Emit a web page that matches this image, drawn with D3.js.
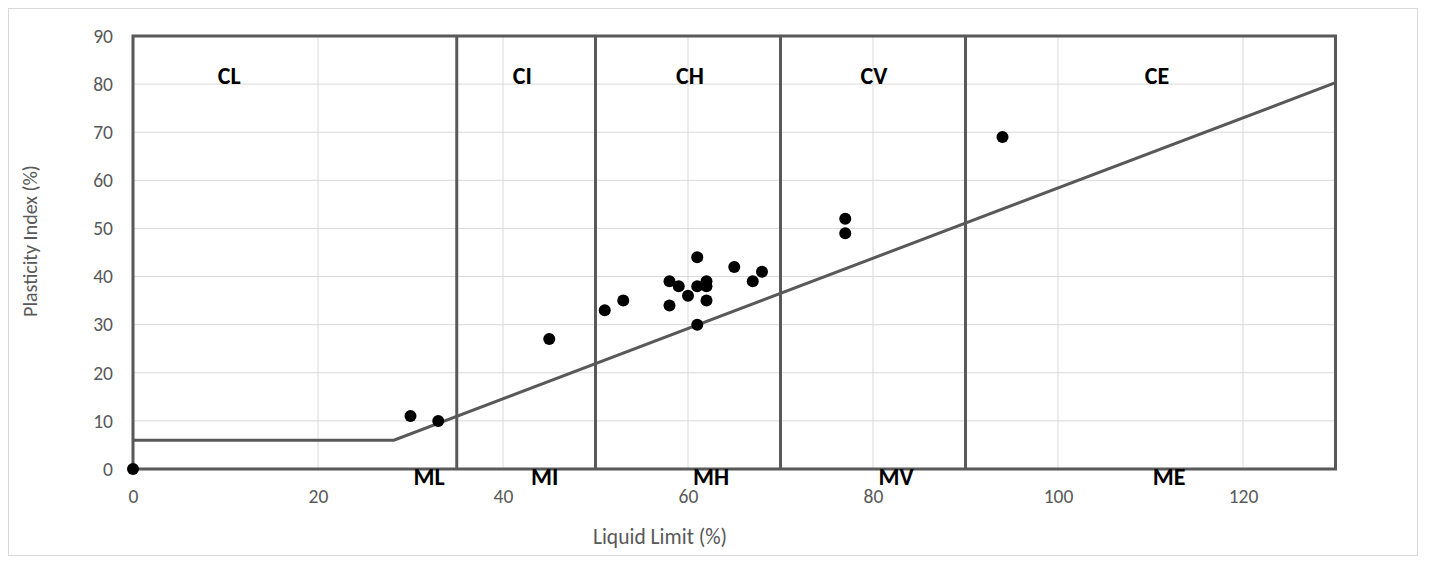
<!DOCTYPE html>
<html><head><meta charset="utf-8">
<script src="https://cdn.jsdelivr.net/npm/d3@7"></script>
<style>body{margin:0;background:#fff}svg{display:block}</style>
</head><body><svg id="c" width="1429" height="564"></svg>
<script>
const xTicks = [0, 20, 40, 60, 80, 100, 120];
const yTicks = [0, 10, 20, 30, 40, 50, 60, 70, 80, 90];
const zoneBounds = [35, 50, 70, 90];
const topLabels = ["CL", "CI", "CH", "CV", "CE"];
const topLabelX = [10.4, 42.1, 60.2, 80.1, 110.7];
const bottomLabels = ["ML", "MI", "MH", "MV", "ME"];
const bottomLabelX = [32, 44.5, 62.5, 82.5, 112];
const aLineLL = [0, 28.2, 130];
const aLinePI = [6, 6, 80.3];
const liquidLimit = [0, 30, 33, 45, 51, 53, 58, 58, 59, 60, 61, 61, 61, 62, 62, 62, 65, 67, 68, 77, 77, 94];
const plasticityIndex = [0, 11, 10, 27, 33, 35, 39, 34, 38, 36, 44, 38, 30, 39, 38, 35, 42, 39, 41, 52, 49, 69];

const svg = d3.select("#c");
const x = d3.scaleLinear().domain([0, 130]).range([133, 1335.5]);
const y = d3.scaleLinear().domain([0, 90]).range([469, 36]);
const font = "Carlito, Calibri, Lato, 'Liberation Sans', sans-serif";

// outer chart border
svg.append("rect").attr("x", 8.5).attr("y", 8.5).attr("width", 1409).attr("height", 547)
  .attr("fill", "#fff").attr("stroke", "#d9d9d9").attr("stroke-width", 1);

// gridlines
svg.append("g").selectAll("line").data(yTicks).join("line")
  .attr("x1", x(0)).attr("x2", x(130)).attr("y1", d => y(d)).attr("y2", d => y(d))
  .attr("stroke", "#d9d9d9").attr("stroke-width", 1);
svg.append("g").selectAll("line").data(xTicks).join("line")
  .attr("y1", y(0)).attr("y2", y(90)).attr("x1", d => x(d)).attr("x2", d => x(d))
  .attr("stroke", "#d9d9d9").attr("stroke-width", 1);

// axes tick labels
const xAxis = d3.axisBottom(x).tickValues(xTicks).tickSize(0).tickPadding(20);
const gx = svg.append("g").attr("transform", `translate(0,${y(0)})`).call(xAxis);
gx.select(".domain").remove();
gx.selectAll("text").attr("fill", "#595959").attr("font-size", 19.5).attr("font-family", font);
const yAxis = d3.axisLeft(y).tickValues(yTicks).tickSize(0).tickPadding(20);
const gy = svg.append("g").attr("transform", `translate(${x(0)},0)`).call(yAxis);
gy.select(".domain").remove();
gy.selectAll("text").attr("fill", "#595959").attr("font-size", 19.5).attr("font-family", font);

// frame and zone boundaries
const stroke = "#595959";
svg.append("rect").attr("x", x(0)).attr("y", y(90)).attr("width", x(130) - x(0)).attr("height", y(0) - y(90))
  .attr("fill", "none").attr("stroke", stroke).attr("stroke-width", 3);
svg.append("g").selectAll("line").data(zoneBounds).join("line")
  .attr("x1", d => x(d)).attr("x2", d => x(d)).attr("y1", y(0)).attr("y2", y(90))
  .attr("stroke", stroke).attr("stroke-width", 3);

// A-line
const aLine = d3.line().x((d, i) => x(d)).y((d, i) => y(aLinePI[i]));
svg.append("path").attr("d", aLine(aLineLL)).attr("fill", "none")
  .attr("stroke", stroke).attr("stroke-width", 3).attr("stroke-linejoin", "miter");

// zone labels
svg.append("g").selectAll("text").data(topLabels).join("text")
  .attr("x", (d, i) => x(topLabelX[i])).attr("y", 84).attr("text-anchor", "middle")
  .attr("font-family", font).attr("font-weight", "bold").attr("font-size", 24).attr("fill", "#000").text(d => d);
svg.append("g").selectAll("text").data(bottomLabels).join("text")
  .attr("x", (d, i) => x(bottomLabelX[i])).attr("y", 485).attr("text-anchor", "middle")
  .attr("font-family", font).attr("font-weight", "bold").attr("font-size", 24).attr("fill", "#000").text(d => d);

// points
svg.append("g").selectAll("circle").data(liquidLimit).join("circle")
  .attr("cx", d => x(d)).attr("cy", (d, i) => y(plasticityIndex[i])).attr("r", 6).attr("fill", "#000");

// axis titles
svg.append("text").attr("x", 660).attr("y", 544).attr("text-anchor", "middle")
  .attr("font-family", font).attr("font-size", 21.5).attr("fill", "#595959").text("Liquid Limit (%)");
svg.append("text").attr("transform", `translate(37,241) rotate(-90)`).attr("text-anchor", "middle")
  .attr("font-family", font).attr("font-size", 20).attr("fill", "#595959").text("Plasticity Index (%)");
</script></body></html>
